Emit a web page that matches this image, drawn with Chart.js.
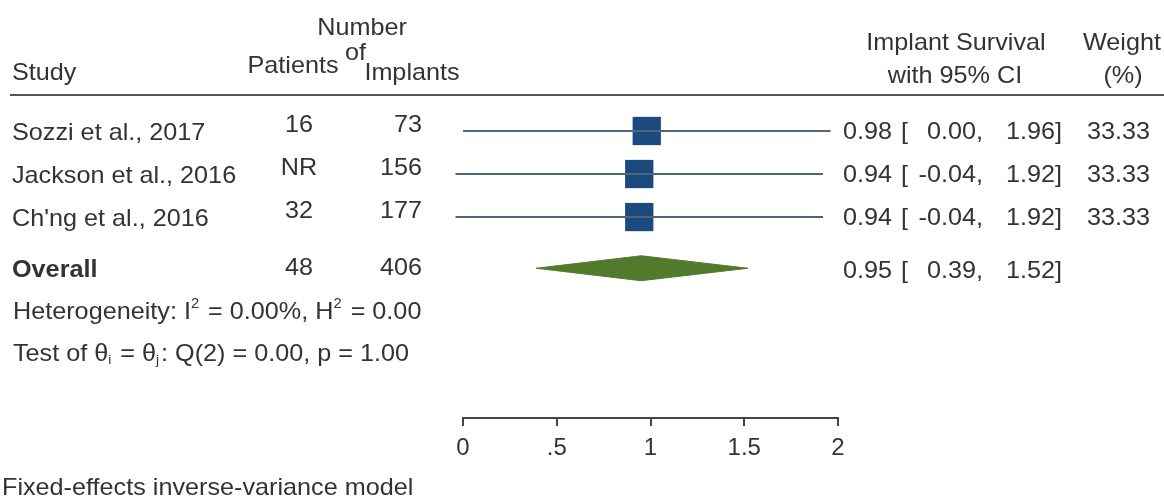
<!DOCTYPE html>
<html>
<head>
  <title>Implant Survival Forest Plot</title>
  <script src="https://cdn.jsdelivr.net/npm/chart.js"></script>
  <style>
    body { margin: 0; background: #fff; }
  </style>
</head>
<body>
  <canvas id="chart" width="1164" height="498"></canvas>

  <script>
    // study rows
    var studies = ['Sozzi et al., 2017', 'Jackson et al., 2016', "Ch'ng et al., 2016"];
    var patients = ['16', 'NR', '32'];
    var implants = [73, 156, 177];
    var survival = [0.98, 0.94, 0.94];
    var ciLow = [0.00, -0.04, -0.04];
    var ciHigh = [1.96, 1.92, 1.92];
    var weights = [33.33, 33.33, 33.33];

    // overall (pooled) row
    var overallPatients = 48;
    var overallImplants = 406;
    var overallSurvival = 0.95;
    var overallLow = 0.39;
    var overallHigh = 1.52;

    var xTicks = [0, 0.5, 1, 1.5, 2];
    var xTickLabels = ['0', '.5', '1', '1.5', '2'];

    // row positions on the (hidden) y scale
    var rowY = [1, 2, 3];
    var overallY = 4.19;
    var hetY = 5.16;
    var testY = 6.14;
    var diamondHalf = 0.29;

    var FONT_FAMILY = '"Liberation Sans", Arial, sans-serif';
    var TEXT = '#333';
    var SX = 1.05; // the original text is a little wider than Arial

    var datasets = [];

    // confidence interval lines
    studies.forEach(function (s, i) {
      datasets.push({
        data: [{ x: ciLow[i], y: rowY[i] }, { x: ciHigh[i], y: rowY[i] }],
        showLine: true,
        borderColor: '#4f6579',
        borderWidth: 2,
        pointRadius: 0,
        clip: false
      });
    });

    // weight squares
    datasets.push({
      data: studies.map(function (s, i) { return { x: survival[i], y: rowY[i] }; }),
      pointStyle: 'rect',
      pointRadius: 20,
      backgroundColor: '#1b4a7f',
      borderWidth: 0,
      clip: false
    });

    // overall diamond
    datasets.push({
      data: [
        { x: overallLow, y: overallY },
        { x: overallSurvival, y: overallY - diamondHalf },
        { x: overallHigh, y: overallY },
        { x: overallSurvival, y: overallY + diamondHalf },
        { x: overallLow, y: overallY }
      ],
      showLine: true,
      fill: 'shape',
      backgroundColor: '#527a2c',
      borderColor: '#527a2c',
      borderWidth: 1,
      pointRadius: 0,
      tension: 0,
      clip: false
    });

    function font(size, bold) {
      return (bold ? 'bold ' : '') + size + 'px ' + FONT_FAMILY;
    }

    function put(ctx, str, x, y) {
      ctx.save();
      ctx.translate(x, y);
      ctx.scale(SX, 1);
      ctx.fillText(str, 0, 0);
      ctx.restore();
    }

    function text(ctx, str, x, y, align, bold) {
      ctx.font = font(24, bold);
      ctx.textAlign = align || 'left';
      put(ctx, str, x, y);
    }

    // draws pieces of text with superscripts / subscripts
    function rich(ctx, parts, x, y) {
      ctx.textAlign = 'left';
      parts.forEach(function (p) {
        var dy = 0;
        if (p.sup) { ctx.font = font(14); dy = -11; }
        else if (p.sub) { ctx.font = font(13); dy = 3; }
        else { ctx.font = font(24); }
        put(ctx, p.t, x, y + dy);
        x += ctx.measureText(p.t).width * SX + (p.sup || p.sub ? 2 : 0);
      });
    }

    var forestText = {
      id: 'forestText',
      afterDraw: function (chart) {
        var ctx = chart.ctx;
        var ys = chart.scales.y;
        ctx.save();
        ctx.fillStyle = TEXT;
        ctx.textBaseline = 'alphabetic';

        // header
        text(ctx, 'Study', 12, 80);
        text(ctx, 'Number', 362, 35, 'center');
        text(ctx, 'Patients', 293, 73, 'center');
        text(ctx, 'of', 345, 60);
        text(ctx, 'Implants', 412, 80, 'center');
        text(ctx, 'Implant Survival', 956, 50, 'center');
        text(ctx, 'with 95% CI', 955, 83, 'center');
        text(ctx, 'Weight', 1122, 50, 'center');
        text(ctx, '(%)', 1123, 83, 'center');

        ctx.strokeStyle = '#555';
        ctx.lineWidth = 2;
        ctx.beginPath();
        ctx.moveTo(10, 95);
        ctx.lineTo(1164, 95);
        ctx.stroke();

        // study rows
        studies.forEach(function (s, i) {
          var py = ys.getPixelForValue(rowY[i]);
          text(ctx, s, 12, py + 9);
          text(ctx, patients[i], 299, py + 1, 'center');
          text(ctx, String(implants[i]), 422, py + 1, 'right');
          text(ctx, survival[i].toFixed(2), 892, py + 8, 'right');
          text(ctx, '[', 901, py + 8);
          text(ctx, ciLow[i].toFixed(2) + ',', 983, py + 8, 'right');
          text(ctx, ciHigh[i].toFixed(2) + ']', 1062, py + 8, 'right');
          text(ctx, weights[i].toFixed(2), 1150, py + 8, 'right');
        });

        // overall row
        var oy = ys.getPixelForValue(overallY);
        text(ctx, 'Overall', 12, oy + 9, 'left', true);
        text(ctx, String(overallPatients), 299, oy + 7, 'center');
        text(ctx, String(overallImplants), 422, oy + 7, 'right');
        text(ctx, overallSurvival.toFixed(2), 892, oy + 10, 'right');
        text(ctx, '[', 901, oy + 10);
        text(ctx, overallLow.toFixed(2) + ',', 983, oy + 10, 'right');
        text(ctx, overallHigh.toFixed(2) + ']', 1062, oy + 10, 'right');

        // heterogeneity statistics
        rich(ctx, [
          { t: 'Heterogeneity: I' }, { t: '2', sup: true },
          { t: ' = 0.00%, H' }, { t: '2', sup: true }, { t: ' = 0.00' }
        ], 13, ys.getPixelForValue(hetY) + 9);
        rich(ctx, [
          { t: 'Test of θ' }, { t: 'i', sub: true },
          { t: ' = θ' }, { t: 'j', sub: true }, { t: ': Q(2) = 0.00, p = 1.00' }
        ], 13, ys.getPixelForValue(testY) + 9);

        text(ctx, 'Fixed-effects inverse-variance model', 2, 495);
        ctx.restore();
      }
    };

    var ctx = document.getElementById('chart').getContext('2d');
    var chart = new Chart(ctx, {
      type: 'scatter',
      data: { datasets: datasets },
      plugins: [forestText],
      options: {
        responsive: false,
        animation: false,
        devicePixelRatio: 1,
        layout: { padding: { left: 463, right: 326, top: 100, bottom: 0 } },
        plugins: {
          legend: { display: false },
          tooltip: { enabled: false }
        },
        scales: {
          x: {
            type: 'linear',
            min: 0,
            max: 2,
            afterBuildTicks: function (scale) {
              scale.ticks = xTicks.map(function (v) { return { value: v }; });
            },
            afterFit: function (scale) { scale.height = 80; },
            grid: {
              display: true,
              drawOnChartArea: false,
              drawTicks: true,
              tickLength: 8,
              color: '#444',
              lineWidth: 2
            },
            border: { display: true, color: '#444', width: 2 },
            ticks: {
              autoSkip: false,
              maxRotation: 0,
              padding: 8,
              color: TEXT,
              font: { size: 24, family: FONT_FAMILY },
              callback: function (v, i) { return xTickLabels[i]; }
            }
          },
          y: {
            type: 'linear',
            display: false,
            reverse: true,
            min: 0.28,
            max: 7.67
          }
        }
      }
    });
  </script>
</body>
</html>
